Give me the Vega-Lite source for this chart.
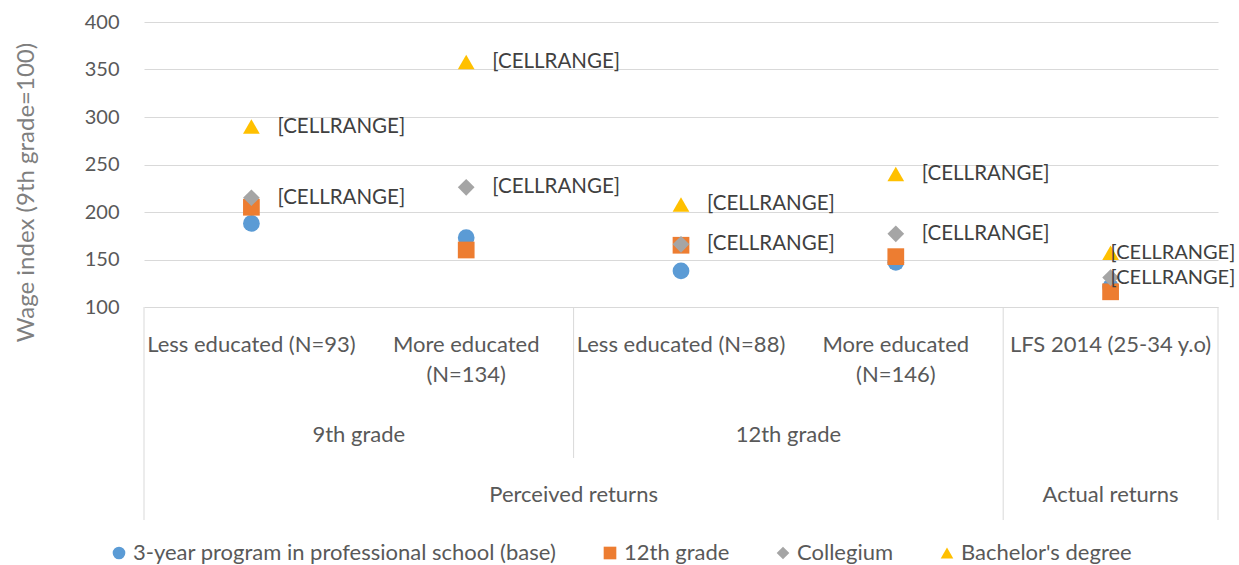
{
  "$schema": "https://vega.github.io/schema/vega-lite/v6.json",
  "padding": {"left": 13, "top": 12, "right": 22, "bottom": 0},
  "bounds": "flush",
  "background": "white",
  "config": {
    "font": "Lato",
    "view": {"stroke": null},
    "axis": {"labelFont": "Lato", "titleFont": "Lato"},
    "legend": {"labelFont": "Lato"}
  },
  "datasets": {
    "points": [
      {"cat": "Less educated (N=93)", "series": "3-year program in professional school (base)", "value": 188},
      {"cat": "More educated (N=134)", "series": "3-year program in professional school (base)", "value": 173},
      {"cat": "Less educated (N=88)", "series": "3-year program in professional school (base)", "value": 138},
      {"cat": "More educated (N=146)", "series": "3-year program in professional school (base)", "value": 147},
      {"cat": "LFS 2014 (25-34 y.o)", "series": "3-year program in professional school (base)", "value": 121},
      {"cat": "Less educated (N=93)", "series": "12th grade", "value": 205},
      {"cat": "More educated (N=134)", "series": "12th grade", "value": 160},
      {"cat": "Less educated (N=88)", "series": "12th grade", "value": 165},
      {"cat": "More educated (N=146)", "series": "12th grade", "value": 153},
      {"cat": "LFS 2014 (25-34 y.o)", "series": "12th grade", "value": 116},
      {"cat": "Less educated (N=93)", "series": "Collegium", "value": 215, "label": "[CELLRANGE]"},
      {"cat": "More educated (N=134)", "series": "Collegium", "value": 226, "label": "[CELLRANGE]"},
      {"cat": "Less educated (N=88)", "series": "Collegium", "value": 166, "label": "[CELLRANGE]"},
      {"cat": "More educated (N=146)", "series": "Collegium", "value": 177, "label": "[CELLRANGE]"},
      {"cat": "LFS 2014 (25-34 y.o)", "series": "Collegium", "value": 131, "label": "[CELLRANGE]"},
      {"cat": "Less educated (N=93)", "series": "Bachelor's degree", "value": 290, "label": "[CELLRANGE]"},
      {"cat": "More educated (N=134)", "series": "Bachelor's degree", "value": 358, "label": "[CELLRANGE]"},
      {"cat": "Less educated (N=88)", "series": "Bachelor's degree", "value": 208, "label": "[CELLRANGE]"},
      {"cat": "More educated (N=146)", "series": "Bachelor's degree", "value": 240, "label": "[CELLRANGE]"},
      {"cat": "LFS 2014 (25-34 y.o)", "series": "Bachelor's degree", "value": 157, "label": "[CELLRANGE]"}
    ],
    "centered": [
      {"cat": "Less educated (N=93)", "text": "Less educated (N=93)", "level": 28},
      {"cat": "More educated (N=134)", "text": "More educated\n(N=134)", "level": 28},
      {"cat": "Less educated (N=88)", "text": "Less educated (N=88)", "level": 28},
      {"cat": "More educated (N=146)", "text": "More educated\n(N=146)", "level": 28},
      {"cat": "LFS 2014 (25-34 y.o)", "text": "LFS 2014 (25-34 y.o)", "level": 28},
      {"cat": "LFS 2014 (25-34 y.o)", "text": "Actual returns", "level": 178}
    ],
    "spanning": [
      {"cat": "Less educated (N=93)", "text": "9th grade", "level": 118},
      {"cat": "Less educated (N=88)", "text": "12th grade", "level": 118},
      {"cat": "More educated (N=134)", "text": "Perceived returns", "level": 178}
    ],
    "startRules": [
      {"cat": "Less educated (N=93)", "top": 0, "bottom": 213},
      {"cat": "Less educated (N=88)", "top": 0, "bottom": 151},
      {"cat": "LFS 2014 (25-34 y.o)", "top": 0, "bottom": 213}
    ],
    "endRules": [
      {"cat": "LFS 2014 (25-34 y.o)", "top": 0, "bottom": 213}
    ]
  },
  "vconcat": [
    {
      "width": 1074,
      "height": 285,
      "data": {"name": "points"},
      "encoding": {
        "x": {
          "field": "cat", "type": "nominal", "sort": null,
          "scale": {"type": "band", "paddingInner": 0, "paddingOuter": 0,
            "domain": ["Less educated (N=93)", "More educated (N=134)", "Less educated (N=88)", "More educated (N=146)", "LFS 2014 (25-34 y.o)"]},
          "axis": null
        },
        "y": {
          "field": "value", "type": "quantitative",
          "scale": {"domain": [100, 400], "nice": false, "zero": false},
          "axis": {
            "title": "Wage index (9th grade=100)",
            "values": [100, 150, 200, 250, 300, 350, 400],
            "domain": false, "ticks": false,
            "grid": true, "gridColor": "#d9d9d9", "gridWidth": 1,
            "labelFontSize": 20, "labelColor": "#595959", "labelPadding": 25,
            "titleFontSize": 24, "titleFontWeight": "normal", "titleColor": "#7f7f7f",
            "titleX": -118, "titleY": 170, "titleAngle": -90, "titleAlign": "center", "titleBaseline": "middle"
          }
        }
      },
      "layer": [
        {
          "mark": {"type": "point", "filled": true, "opacity": 1, "size": 280, "strokeWidth": 0},
          "encoding": {
            "color": {
              "field": "series", "type": "nominal",
              "scale": {
                "domain": ["3-year program in professional school (base)", "12th grade", "Collegium", "Bachelor's degree"],
                "range": ["#5B9BD5", "#ED7D31", "#A5A5A5", "#FFC000"]
              },
              "legend": {
                "title": null, "orient": "none", "direction": "horizontal",
                "legendX": -36, "legendY": 520,
                "labelFontSize": 22, "labelColor": "#595959", "symbolSize": 160,
                "columnPadding": 42, "symbolOffset": 0, "labelOffset": 3, "labelLimit": 600
              }
            },
            "shape": {
              "field": "series", "type": "nominal",
              "scale": {
                "domain": ["3-year program in professional school (base)", "12th grade", "Collegium", "Bachelor's degree"],
                "range": ["circle", "square", "diamond", "triangle-up"]
              },
              "legend": null
            }
          }
        },
        {
          "transform": [{"filter": "datum.label && datum.cat !== 'LFS 2014 (25-34 y.o)'"}],
          "mark": {"type": "text", "align": "left", "baseline": "middle", "dx": 26, "fontSize": 20.5, "color": "#404040"},
          "encoding": {"text": {"field": "label"}}
        },
        {
          "transform": [{"filter": "datum.label && datum.cat === 'LFS 2014 (25-34 y.o)'"}],
          "mark": {"type": "text", "align": "left", "baseline": "middle", "dx": 0, "fontSize": 20, "color": "#404040"},
          "encoding": {"text": {"field": "label"}}
        }
      ]
    },
    {
      "width": 1074,
      "height": 213,
      "layer": [
        {
          "data": {"name": "startRules"},
          "mark": {"type": "rule", "color": "#d9d9d9", "strokeWidth": 1},
          "encoding": {
            "x": {"field": "cat", "type": "nominal", "bandPosition": 0,
              "scale": {"type": "band", "paddingInner": 0, "paddingOuter": 0,
                "domain": ["Less educated (N=93)", "More educated (N=134)", "Less educated (N=88)", "More educated (N=146)", "LFS 2014 (25-34 y.o)"]},
              "axis": null},
            "y": {"field": "top", "type": "quantitative", "scale": {"domain": [0, 213], "reverse": true, "nice": false}, "axis": null},
            "y2": {"field": "bottom"}
          }
        },
        {
          "data": {"name": "endRules"},
          "mark": {"type": "rule", "color": "#d9d9d9", "strokeWidth": 1},
          "encoding": {
            "x": {"field": "cat", "type": "nominal", "bandPosition": 1,
              "scale": {"type": "band", "paddingInner": 0, "paddingOuter": 0,
                "domain": ["Less educated (N=93)", "More educated (N=134)", "Less educated (N=88)", "More educated (N=146)", "LFS 2014 (25-34 y.o)"]},
              "axis": null},
            "y": {"field": "top", "type": "quantitative", "scale": {"domain": [0, 213], "reverse": true, "nice": false}, "axis": null},
            "y2": {"field": "bottom"}
          }
        },
        {
          "data": {"name": "centered"},
          "mark": {"type": "text", "align": "center", "baseline": "top", "fontSize": 22, "color": "#595959", "lineBreak": "\n", "lineHeight": 30},
          "encoding": {
            "x": {"field": "cat", "type": "nominal", "bandPosition": 0.5,
              "scale": {"type": "band", "paddingInner": 0, "paddingOuter": 0,
                "domain": ["Less educated (N=93)", "More educated (N=134)", "Less educated (N=88)", "More educated (N=146)", "LFS 2014 (25-34 y.o)"]},
              "axis": null},
            "y": {"field": "level", "type": "quantitative", "scale": {"domain": [0, 213], "reverse": true, "nice": false}, "axis": null},
            "text": {"field": "text"}
          }
        },
        {
          "data": {"name": "spanning"},
          "mark": {"type": "text", "align": "center", "baseline": "top", "fontSize": 22, "color": "#595959"},
          "encoding": {
            "x": {"field": "cat", "type": "nominal", "bandPosition": 1,
              "scale": {"type": "band", "paddingInner": 0, "paddingOuter": 0,
                "domain": ["Less educated (N=93)", "More educated (N=134)", "Less educated (N=88)", "More educated (N=146)", "LFS 2014 (25-34 y.o)"]},
              "axis": null},
            "y": {"field": "level", "type": "quantitative", "scale": {"domain": [0, 213], "reverse": true, "nice": false}, "axis": null},
            "text": {"field": "text"}
          }
        }
      ]
    }
  ],
  "spacing": 0
}
